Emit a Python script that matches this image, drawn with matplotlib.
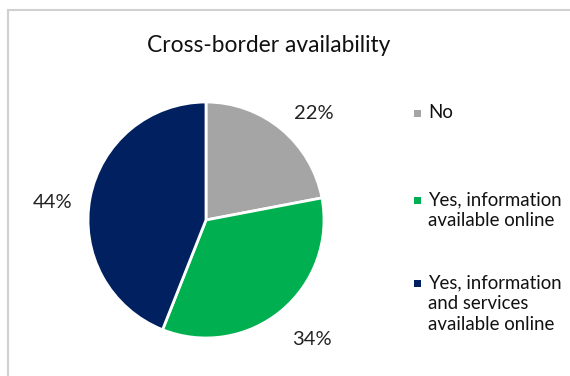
import matplotlib.pyplot as plt
from matplotlib.patches import Rectangle

# data
labels = ['No', 'Yes, information\navailable online',
          'Yes, information\nand services\navailable online']
shares = [22, 34, 44]
colors = ['#A5A5A5', '#00B050', '#002060']

plt.rcParams['font.family'] = ['Lato', 'DejaVu Sans']

W, H = 570, 376
fig = plt.figure(figsize=(W / 100, H / 100), dpi=100)

# chart frame (only left/top edges visible in the crop)
fig.add_artist(Rectangle((8 / W, -0.5), 2.0, 1.5 - 10 / H, transform=fig.transFigure,
                         fill=False, edgecolor='#D0D0D0', linewidth=1.5))

# pie axes: centre (206, 220) px, radius 118 px
cx, cy, r = 206, 220, 118
ax = fig.add_axes([(cx - r) / W, (H - cy - r) / H, 2 * r / W, 2 * r / H])
wedges, _, autotexts = ax.pie(shares, colors=colors, startangle=90, counterclock=False,
                              autopct='%1.0f%%', pctdistance=1.3,
                              wedgeprops=dict(edgecolor='white', linewidth=2),
                              textprops=dict(fontsize=14.5, color='#222222'))
ax.set_xlim(-1, 1)
ax.set_ylim(-1, 1)
ax.set_aspect('auto')

# data label placement (as in the original, in pie-radius units)
label_pos = [(0.91, 0.90), (0.90, -1.01), (-1.30, 0.15)]
for t, (x, y) in zip(autotexts, label_pos):
    t.set_position((x, y))

fig.text(269 / W, 1 - 45 / H, 'Cross-border availability', ha='center', va='center',
         fontsize=16.4, color='#111111')

# legend, marker aligned with first line of each label
leg_y = [114, 201, 284]
for lab, col, y in zip(labels, colors, leg_y):
    fig.add_artist(Rectangle((414 / W, 1 - (y + 3) / H), 7 / W, 7 / H,
                             transform=fig.transFigure, facecolor=col, edgecolor='none'))
    fig.text(428 / W, 1 - (y - 10) / H, lab, ha='left', va='top', fontsize=13.4,
             color='#111111', linespacing=1.3)

fig.savefig('out.png', dpi=100)
